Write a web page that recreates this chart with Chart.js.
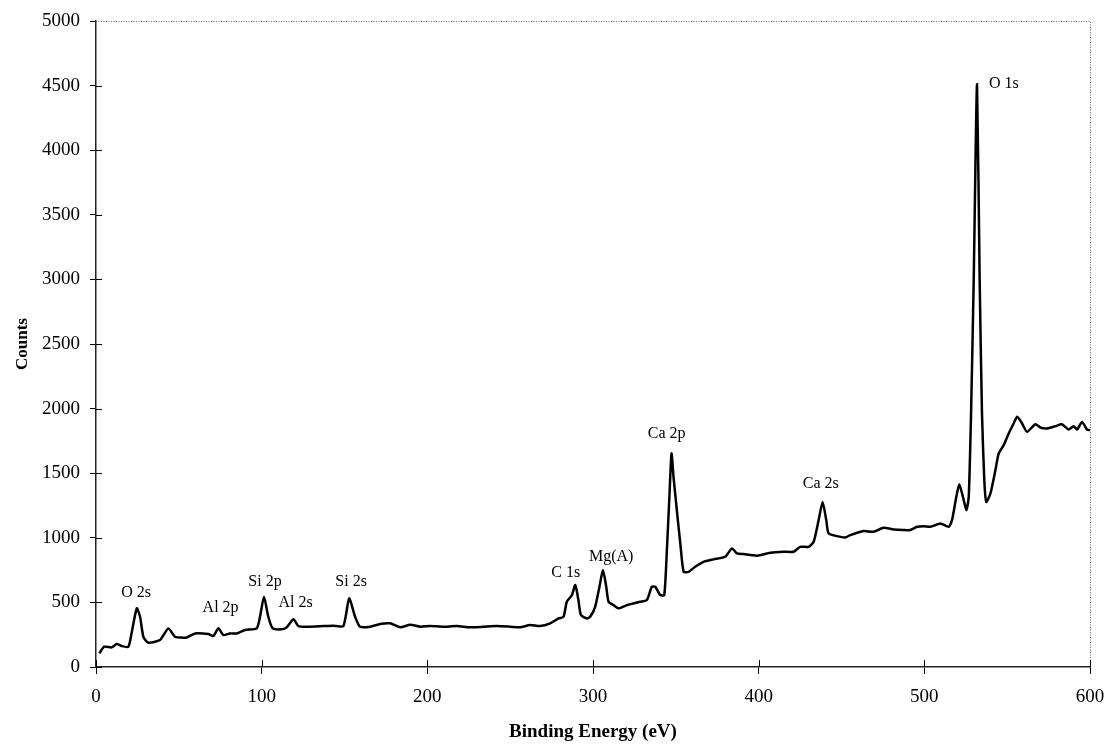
<!DOCTYPE html>
<html>
<head>
<meta charset="utf-8">
<script src="https://cdn.jsdelivr.net/npm/chart.js@4"></script>
<style>
  html, body { margin: 0; padding: 0; background: #fff; }
  #wrap { width: 1107px; height: 744px; }
</style>
</head>
<body>
<div id="wrap"><canvas id="xpsChart"></canvas></div>
<script>
// binding energy (eV) and counts
const energy = [2, 5, 9.5, 12.5, 15.5, 19.5, 21.5, 24.6, 26.6, 28.6, 31.6, 38.6, 43.7, 47.7, 54.8, 59.8,
    67.8, 70.8, 73.9, 76.9, 80.9, 85, 90, 97, 99, 101.4, 104, 106.7, 112, 115.1, 119.2, 122.2,
    128.2, 137.3, 143, 149.3, 152.8, 156.4, 159.4, 165.5, 171.5, 177.5, 183.6, 189.6, 195.7, 201.7,
    209.7, 217.8, 225.8, 233.9, 242, 250, 256, 262, 268, 274.2, 279.2, 282.2, 284.2, 287.3, 289.3,
    291.2, 292.7, 296.3, 298.3, 301.3, 303.9, 306, 308, 309.4, 312.4, 315.4, 320.5, 328.5, 332.5,
    335.5, 337.6, 340.6, 343, 344.6, 346.2, 347.4, 348.6, 350.6, 352.7, 354.7, 357.7, 361.7, 366.7,
    372.8, 379.8, 383.9, 386.9, 390.9, 398.9, 407, 415, 421.1, 425.1, 430.1, 433.2, 436.2, 438.6,
    440.8, 442.2, 447.3, 452.3, 455.3, 463.3, 469.3, 475.4, 481.4, 487.5, 491.5, 495.6, 499.6, 503.6,
    509.7, 514.7, 516.7, 519.3, 521.1, 523.3, 525.4, 526.8, 528.2, 529.8, 531.8, 533.4, 534.8, 536.2,
    537.4, 539.9, 542.9, 544.9, 547.9, 550.9, 553.9, 556, 559, 562, 567, 570, 574, 579.1, 583.1,
    587.1, 590.1, 592.2, 595.2, 598.2, 600];
const counts = [106, 157, 152, 178, 162, 157, 263, 454, 389, 234, 188, 209, 299, 234, 229, 260,
    255, 240, 299, 247, 260, 260, 286, 299, 389, 544, 389, 299, 292, 307, 369, 317,
    312, 317, 320, 317, 531, 389, 312, 312, 333, 338, 307, 327, 312, 317,
    312, 317, 307, 312, 317, 312, 307, 325, 317, 338, 376, 389, 505, 557, 634,
    518, 402, 376, 389, 466, 621, 750, 621, 505, 479, 454, 479, 505, 518,
    621, 621, 557, 557, 905, 1343, 1653, 1472, 1214, 957, 737, 737, 776, 814,
    833, 853, 918, 879, 874, 862, 884, 892, 892, 930, 930, 969, 1137, 1278,
    1137, 1034, 1013, 1003, 1021, 1052, 1047, 1078, 1065, 1060, 1060, 1085, 1090, 1085,
    1111, 1085, 1137, 1317, 1415, 1317, 1214, 1317, 1962, 2993, 4510, 2993, 1962, 1446,
    1278, 1343, 1524, 1653, 1717, 1807, 1885, 1936, 1885, 1820, 1879, 1854, 1846, 1864, 1879,
    1838, 1864, 1838, 1897, 1838, 1833];

// peak labels and where they sit (data coords)
const peakNames = ['O 2s', 'Al 2p', 'Si 2p', 'Al 2s', 'Si 2s', 'C 1s', 'Mg(A)', 'Ca 2p', 'Ca 2s', 'O 1s'];
const peakLabelX = [24.2, 75.2, 102, 120.5, 154, 283.5, 311, 344.5, 437.5, 548];
const peakLabelY = [576, 456, 657, 495, 661, 727, 851, 1802, 1415, 4517];

const xTicks = [0, 100, 200, 300, 400, 500, 600];
const yTicks = [0, 500, 1000, 1500, 2000, 2500, 3000, 3500, 4000, 4500, 5000];

Chart.defaults.font.family = "'Liberation Serif', 'Times New Roman', serif";
Chart.defaults.color = '#000';

const frame = {
    id: 'frame',
    afterDraw(chart) {
        const { ctx, chartArea: a, scales: { x, y } } = chart;
        ctx.save();
        // dotted top and right border
        ctx.strokeStyle = '#666';
        ctx.lineWidth = 1;
        ctx.setLineDash([1, 1.5]);
        ctx.beginPath();
        ctx.moveTo(a.left, a.top + 0.5);
        ctx.lineTo(a.right + 0.5, a.top + 0.5);
        ctx.lineTo(a.right + 0.5, a.bottom);
        ctx.stroke();
        ctx.setLineDash([]);
        // inner half of the cross ticks
        ctx.strokeStyle = '#000';
        ctx.beginPath();
        x.ticks.forEach(t => {
            const px = Math.round(x.getPixelForValue(t.value)) + 0.5;
            ctx.moveTo(px, a.bottom);
            ctx.lineTo(px, a.bottom - 7);
        });
        y.ticks.forEach(t => {
            if (t.value === 5000) return;
            const py = Math.round(y.getPixelForValue(t.value)) + 0.5;
            ctx.moveTo(a.left, py);
            ctx.lineTo(a.left + 6, py);
        });
        ctx.stroke();
        // peak labels
        ctx.fillStyle = '#000';
        ctx.font = "16px 'Liberation Serif'";
        ctx.textAlign = 'center';
        ctx.textBaseline = 'middle';
        peakNames.forEach((name, i) => {
            ctx.fillText(name, x.getPixelForValue(peakLabelX[i]), y.getPixelForValue(peakLabelY[i]));
        });
        ctx.restore();
    }
};

const ctx = document.getElementById('xpsChart').getContext('2d');
new Chart(ctx, {
    type: 'line',
    data: {
        datasets: [{
            label: 'Counts',
            data: energy.map((e, i) => ({ x: e, y: counts[i] })),
            borderColor: '#000',
            borderWidth: 2.5,
            pointRadius: 0,
            tension: 0.2,
            fill: false
        }]
    },
    options: {
        responsive: true,
        maintainAspectRatio: false,
        animation: false,
        layout: { padding: { top: 21, right: 17, left: 12, bottom: 0 } },
        plugins: { legend: { display: false }, tooltip: { enabled: false } },
        scales: {
            x: {
                type: 'linear',
                min: 0,
                max: 600,
                afterBuildTicks: s => { s.ticks = xTicks.map(v => ({ value: v })); },
                afterFit: s => { s.height = 77; s.paddingLeft = 0; s.paddingRight = 0; },
                grid: { drawOnChartArea: false, tickLength: 7, color: '#000' },
                border: { color: '#222', width: 1.5 },
                ticks: { font: { size: 19 }, padding: 12, maxRotation: 0, callback: v => String(v) },
                title: {
                    display: true,
                    text: 'Binding Energy (eV)',
                    font: { size: 19, weight: 'bold' },
                    padding: { top: 2, bottom: 1 }
                }
            },
            y: {
                min: 0,
                max: 5000,
                afterBuildTicks: s => { s.ticks = yTicks.map(v => ({ value: v })); },
                afterFit: s => { s.width = 84; s.paddingTop = 0; s.paddingBottom = 0; },
                grid: { drawOnChartArea: false, tickLength: 6, color: '#000' },
                border: { color: '#222', width: 1.5 },
                ticks: { font: { size: 19 }, padding: 10, callback: v => String(v) },
                title: {
                    display: true,
                    text: 'Counts',
                    font: { size: 17, weight: 'bold' },
                    padding: { top: 0, bottom: 0 }
                }
            }
        }
    },
    plugins: [frame]
});
</script>
</body>
</html>
